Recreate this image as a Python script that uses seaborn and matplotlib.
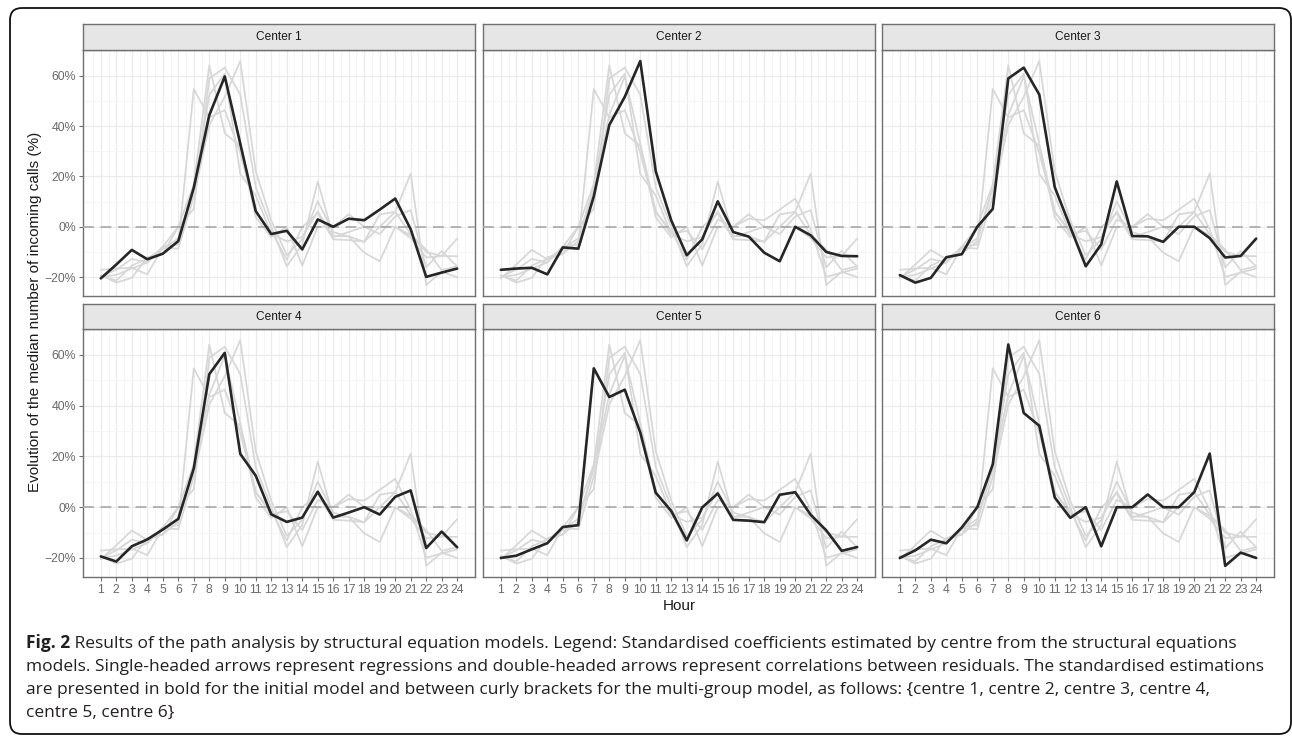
import numpy as np
import pandas as pd
import matplotlib
matplotlib.use("Agg")
import matplotlib.pyplot as plt
import seaborn as sns
from matplotlib.patches import FancyBboxPatch
from matplotlib.transforms import IdentityTransform
from matplotlib.ticker import FixedLocator, FuncFormatter

# ---------------- data ----------------
hours = list(range(1, 25))
center_names = ["Center 1", "Center 2", "Center 3", "Center 4", "Center 5", "Center 6"]
center1 = [-20.5, -15.0, -9.2, -12.9, -10.7, -5.7, 15.5, 44.3, 59.7, 33.0, 6.2, -2.9,
           -1.6, -9.0, 2.9, 0.0, 3.2, 2.6, 6.8, 11.2, -1.0, -19.9, -18.2, -16.6]
center2 = [-17.1, -16.6, -16.3, -18.9, -8.2, -8.7, 12.1, 40.4, 51.6, 65.8, 22.0, 2.5,
           -11.3, -5.0, 10.1, -2.1, -3.9, -10.3, -13.7, 0.0, -3.4, -10.0, -11.6, -11.7]
center3 = [-19.2, -22.2, -20.3, -12.1, -10.9, 0.0, 7.1, 58.9, 63.2, 52.5, 15.7, 0.0,
           -15.7, -7.0, 18.0, -3.7, -3.8, -6.0, 0.0, 0.0, -4.5, -12.2, -11.6, -4.7]
center4 = [-19.4, -21.4, -15.4, -12.7, -8.8, -4.6, 15.3, 52.4, 60.8, 21.0, 12.4, -2.8,
           -5.8, -4.1, 6.1, -4.1, -2.1, 0.0, -2.9, 4.1, 6.6, -16.1, -9.6, -15.8]
center5 = [-20.0, -19.1, -16.6, -14.2, -7.8, -7.1, 54.7, 43.4, 46.3, 29.4, 5.7, -1.5,
           -13.1, -0.1, 5.4, -5.0, -5.3, -5.9, 4.9, 5.9, -3.0, -9.1, -17.2, -15.7]
center6 = [-20.0, -17.0, -12.8, -14.2, -8.0, 0.0, 16.9, 64.1, 37.1, 32.1, 3.8, -4.2,
           0.0, -15.4, 0.0, 0.0, 5.0, 0.0, 0.0, 5.9, 21.1, -23.1, -17.9, -20.0]
y_ticks = [-20, 0, 20, 40, 60]
y_minor = [-10, 10, 30, 50]
x_label = "Hour"
y_label = "Evolution of the median number of incoming calls (%)"
caption_bold = "Fig. 2"
caption_lines = [
    " Results of the path analysis by structural equation models. Legend: Standardised coefficients estimated by centre from the structural equations",
    "models. Single-headed arrows represent regressions and double-headed arrows represent correlations between residuals. The standardised estimations",
    "are presented in bold for the initial model and between curly brackets for the multi-group model, as follows: {centre 1, centre 2, centre 3, centre 4,",
    "centre 5, centre 6}",
]

series = [center1, center2, center3, center4, center5, center6]
df = pd.DataFrame({
    "center": np.repeat(center_names, len(hours)),
    "hour": hours * len(center_names),
    "value": np.concatenate(series),
})

# ---------------- style ----------------
sns.set_theme(style="white")
plt.rcParams["font.family"] = ["Liberation Sans", "DejaVu Sans"]

W, H = 1292, 736
fig = plt.figure(figsize=(W / 100, H / 100), dpi=100)
fig.patch.set_facecolor("white")


def frac(x0, y0, x1, y1):
    return [x0 / W, 1 - y1 / H, (x1 - x0) / W, (y1 - y0) / H]


cols = [(83, 475), (483, 875), (882, 1274)]
rows = [((24, 50), (50, 296)), ((304, 329), (329, 577))]

BORDER = "#707070"
GREY_LINE = "#d7d7d7"
DARK_LINE = "#262626"
ymin, ymax = -27.5, 70.2
xmin, xmax = 1 - 1.15, 24 + 1.15

for i, name in enumerate(center_names):
    r, c = divmod(i, 3)
    (sy0, sy1), (py0, py1) = rows[r]
    cx0, cx1 = cols[c]
    ax = fig.add_axes(frac(cx0, py0, cx1, py1))
    ax.set_facecolor("white")
    sns.lineplot(data=df, x="hour", y="value", units="center", estimator=None,
                 color=GREY_LINE, linewidth=1.25, ax=ax, legend=False, zorder=2)
    ax.axhline(0, color="#a8a8a8", linewidth=1.2, dashes=(6.5, 4), zorder=3)
    sns.lineplot(data=df[df["center"] == name], x="hour", y="value",
                 color=DARK_LINE, linewidth=1.9, ax=ax, legend=False, zorder=4)
    ax.set_xlim(xmin, xmax)
    ax.set_ylim(ymin, ymax)
    ax.xaxis.set_major_locator(FixedLocator(hours))
    ax.xaxis.set_minor_locator(FixedLocator([h + 0.5 for h in hours[:-1]] + [0.5, 24.5]))
    ax.yaxis.set_major_locator(FixedLocator(y_ticks))
    ax.yaxis.set_minor_locator(FixedLocator(y_minor))
    ax.yaxis.set_major_formatter(FuncFormatter(lambda v, p: f"{int(v)}%".replace("-", "\u2212")))
    ax.grid(which="major", color="#ebebeb", linewidth=0.9, zorder=0)
    ax.grid(which="minor", color="#f4f4f4", linewidth=0.6, zorder=0)
    ax.set_axisbelow(True)
    for s in ax.spines.values():
        s.set_color(BORDER)
        s.set_linewidth(1.0)
        s.set_visible(True)
    ax.tick_params(which="minor", length=0)
    ax.tick_params(which="major", length=3, width=0.8, color=BORDER,
                   labelsize=8.8, labelcolor="#6a6a6a", pad=2)
    ax.tick_params(axis="x", bottom=(r == 1), labelbottom=(r == 1))
    ax.tick_params(axis="y", left=(c == 0), labelleft=(c == 0))
    ax.set_xlabel("")
    ax.set_ylabel("")

    sax = fig.add_axes(frac(cx0, sy0, cx1, sy1))
    sax.set_facecolor("#e6e6e6")
    sax.set_xticks([])
    sax.set_yticks([])
    for s in sax.spines.values():
        s.set_color(BORDER)
        s.set_linewidth(1.0)
        s.set_visible(True)
    sax.text(0.5, 0.5, name, ha="center", va="center", fontsize=8.6,
             color="#1a1a1a", transform=sax.transAxes)

fig.text(35 / W, 1 - 312 / H, y_label, rotation=90, ha="center", va="center",
         fontsize=11, color="#1a1a1a")
fig.text(679 / W, 1 - 606 / H, x_label, ha="center", va="center",
         fontsize=11, color="#1a1a1a")

# ---------------- caption ----------------
cap_family = ["Open Sans", "DejaVu Sans"]
cap_color = "#231f20"
baselines = [648, 671, 694, 717]
x_start = 26
max_w = 1262 - x_start
renderer = fig.canvas.get_renderer()


def draw_caption(fs):
    arts = []
    widths = []
    tb = fig.text(x_start / W, 1 - baselines[0] / H, caption_bold, ha="left", va="baseline",
                  fontsize=fs, fontweight="bold", family=cap_family, color=cap_color)
    arts.append(tb)
    bw = tb.get_window_extent(renderer).width
    t1 = fig.text((x_start + bw) / W, 1 - baselines[0] / H, caption_lines[0], ha="left",
                  va="baseline", fontsize=fs, family=cap_family, color=cap_color)
    arts.append(t1)
    widths.append(bw + t1.get_window_extent(renderer).width)
    for line, b in zip(caption_lines[1:], baselines[1:]):
        t = fig.text(x_start / W, 1 - b / H, line, ha="left", va="baseline",
                     fontsize=fs, family=cap_family, color=cap_color)
        arts.append(t)
        widths.append(t.get_window_extent(renderer).width)
    return arts, max(widths)


fs = 11.0
arts, w = draw_caption(fs)
for a in arts:
    a.remove()
fs = fs * max_w / w
arts, w = draw_caption(fs)

# rounded outer border
box = FancyBboxPatch((10, H - 734), 1281, 726, boxstyle="round,pad=0,rounding_size=12",
                     transform=IdentityTransform(), fill=False, edgecolor="#111111",
                     linewidth=1.3)
fig.patches.append(box)

fig.savefig("out.png", dpi=100, facecolor="white")
